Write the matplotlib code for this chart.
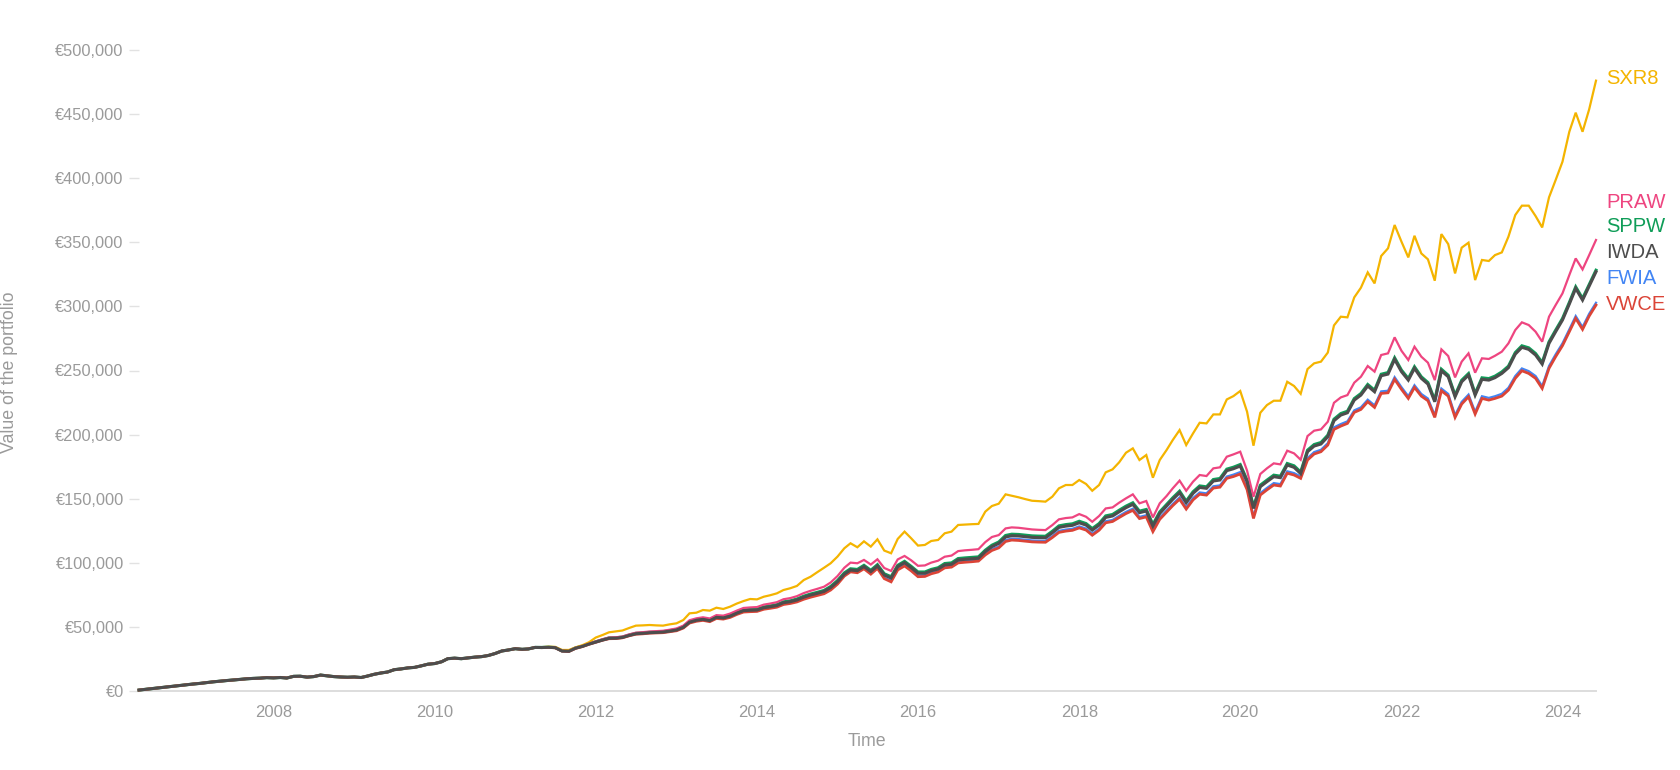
import matplotlib
matplotlib.use("Agg")
import matplotlib.pyplot as plt
import matplotlib.dates as mdates
import pandas as pd

plt.rcParams['font.family'] = ['Liberation Sans', 'DejaVu Sans']

# Portfolio value in thousands of euros, one point per month from May 2006.
# All six lines overlap until spring 2011, so that part is shared.
early = [0.5, 1.1, 1.7, 2.3, 2.9, 3.5, 4.1, 4.6, 5.2, 5.7,
         6.3, 6.9, 7.4, 7.9, 8.3, 8.8, 9.3, 9.6, 9.8, 10.2,
         10.0, 10.3, 9.9, 11.2, 11.3, 10.6, 11.0, 12.2, 11.6, 11.0,
         10.7, 10.5, 10.7, 10.3, 11.4, 12.8, 13.8, 14.6, 16.4, 17.0,
         17.8, 18.2, 19.4, 20.7, 21.2, 22.6, 25.0, 25.4, 25.0, 25.6,
         26.2, 26.6, 27.5, 29.0, 31.0, 31.8, 32.8, 32.3, 32.6, 33.8]

sxr8 = early + [
    34.0, 34.3, 34.2, 31.8, 31.8, 33.8, 35.5, 37.8, 41.5, 43.5,
    45.6, 46.3, 47.0, 49.0, 50.8, 51.0, 51.3, 51.0, 50.8, 51.8,
    52.6, 55.2, 60.4, 60.9, 63.0, 62.5, 64.8, 63.8, 65.6, 68.0,
    70.0, 71.6, 71.3, 73.4, 74.5, 76.0, 78.6, 80.0, 81.8, 86.4,
    89.0, 92.5, 96.0, 99.5, 104.7, 111.2, 115.1, 112.0, 116.6, 112.5,
    118.2, 109.4, 107.3, 118.5, 124.2, 119.0, 113.3, 113.8, 116.9, 117.7,
    122.9, 124.2, 129.4, 129.7, 130.0, 130.2, 139.8, 144.2, 146.0, 153.3,
    152.2, 151.0, 149.6, 148.3, 148.0, 147.6, 151.5, 158.0, 160.6, 160.6,
    164.5, 161.4, 156.1, 160.6, 170.5, 172.8, 178.3, 185.8, 189.2, 180.1,
    184.0, 166.3, 180.1, 187.9, 195.7, 203.5, 191.8, 200.9, 209.2, 208.7,
    215.7, 215.7, 227.4, 230.0, 234.0, 217.8, 191.3, 217.0, 223.0, 226.4,
    226.4, 241.2, 237.9, 231.8, 251.1, 255.6, 256.9, 264.0, 285.2, 292.0,
    291.5, 307.1, 314.6, 326.6, 318.0, 339.4, 345.4, 363.6, 350.6, 338.3,
    355.2, 341.4, 336.8, 320.1, 356.5, 348.7, 325.8, 345.9, 349.8, 320.6,
    336.3, 335.5, 340.1, 342.2, 354.5, 371.4, 378.7, 378.7, 370.6, 361.7,
    385.2, 398.7, 413.0, 436.4, 451.3, 436.4, 453.9, 476.3]

praw = early + [
    33.8, 34.0, 33.7, 31.1, 30.9, 33.4, 34.8, 36.7, 38.5, 40.2,
    41.5, 41.7, 42.3, 44.0, 45.3, 45.7, 46.2, 46.5, 46.8, 47.6,
    48.6, 50.8, 55.0, 56.5, 57.3, 56.4, 59.0, 58.6, 60.2, 62.5,
    64.6, 65.0, 65.3, 67.2, 68.0, 69.1, 71.4, 72.3, 73.8, 76.2,
    78.0, 79.5, 81.2, 84.5, 89.5, 96.0, 100.0, 99.5, 102.1, 98.5,
    102.6, 95.8, 93.5, 102.5, 105.2, 101.8, 97.5, 97.8, 100.0, 101.5,
    104.6, 105.5, 109.0, 109.6, 110.0, 110.5, 116.0, 120.0, 121.5, 126.7,
    127.5, 127.2, 126.6, 125.9, 125.6, 125.4, 129.3, 133.8, 134.8, 135.3,
    137.9, 135.8, 131.9, 136.4, 142.3, 143.1, 146.8, 150.2, 153.3, 146.3,
    148.1, 135.3, 146.3, 152.0, 158.0, 164.0, 156.1, 163.2, 168.4, 167.6,
    173.6, 174.4, 182.7, 184.5, 186.6, 171.8, 151.4, 169.2, 173.6, 177.5,
    176.7, 187.4, 185.3, 180.3, 198.8, 203.0, 204.0, 210.0, 224.8, 229.0,
    230.8, 240.5, 245.1, 253.5, 249.1, 262.1, 263.4, 275.9, 265.4, 258.2,
    268.6, 260.8, 256.1, 242.5, 266.5, 261.3, 244.6, 256.9, 263.4, 248.3,
    259.5, 259.0, 261.5, 264.7, 271.2, 281.6, 287.6, 285.5, 280.3, 272.5,
    292.0, 301.1, 310.2, 324.5, 337.5, 328.9, 340.1, 351.9]

sppw = early + [
    33.8, 34.0, 33.7, 31.1, 30.9, 33.4, 34.8, 36.6, 38.2, 39.8,
    41.2, 41.3, 41.9, 43.5, 44.8, 45.1, 45.6, 45.8, 46.1, 46.9,
    47.8, 49.9, 53.9, 55.5, 56.2, 55.2, 57.8, 57.3, 58.8, 61.1,
    63.1, 63.4, 63.6, 65.4, 66.2, 67.2, 69.4, 70.2, 71.6, 73.8,
    75.5, 76.8, 78.3, 81.4, 86.0, 92.0, 95.2, 94.7, 97.9, 94.0,
    98.4, 91.3, 89.0, 97.9, 101.0, 97.1, 92.7, 92.7, 94.7, 96.0,
    99.3, 99.8, 103.2, 103.7, 104.1, 104.5, 109.7, 113.6, 116.1, 121.2,
    122.2, 122.0, 121.5, 120.9, 120.7, 120.6, 124.5, 128.7, 129.7, 130.3,
    132.3, 130.5, 126.6, 130.5, 136.5, 137.6, 140.9, 144.1, 146.7, 140.2,
    141.5, 129.8, 139.6, 145.4, 150.6, 155.8, 148.0, 155.3, 159.9, 159.2,
    164.9, 165.7, 173.0, 174.5, 176.6, 164.4, 143.5, 160.5, 164.4, 168.3,
    167.5, 177.4, 175.6, 170.7, 187.8, 192.2, 193.8, 199.5, 212.0, 216.4,
    218.2, 228.1, 232.0, 239.1, 234.6, 247.1, 248.4, 259.9, 250.3, 243.7,
    252.9, 245.1, 240.6, 226.8, 251.0, 246.3, 230.7, 242.4, 247.6, 232.0,
    244.3, 243.7, 245.6, 248.9, 253.4, 264.0, 269.3, 267.7, 263.3, 256.2,
    272.4, 281.5, 290.6, 303.1, 315.3, 306.2, 317.1, 328.3]

iwda = early + [
    33.7, 33.9, 33.6, 31.0, 30.8, 33.2, 34.6, 36.4, 38.0, 39.6,
    40.9, 41.0, 41.6, 43.2, 44.5, 44.8, 45.3, 45.5, 45.8, 46.5,
    47.4, 49.5, 53.5, 55.0, 55.7, 54.7, 57.3, 56.8, 58.2, 60.5,
    62.5, 62.8, 63.0, 64.8, 65.5, 66.5, 68.7, 69.5, 70.8, 73.0,
    74.7, 76.0, 77.5, 80.5, 85.1, 91.0, 94.2, 93.7, 96.9, 93.0,
    97.4, 90.3, 88.0, 96.9, 100.0, 96.1, 91.7, 91.7, 93.7, 95.0,
    98.2, 98.7, 102.1, 102.6, 103.0, 103.4, 108.6, 112.5, 115.0, 120.0,
    121.0, 120.8, 120.3, 119.7, 119.5, 119.4, 123.3, 127.5, 128.5, 129.1,
    131.1, 129.3, 125.4, 129.3, 135.3, 136.4, 139.7, 142.9, 145.5, 139.0,
    140.3, 128.6, 138.4, 144.2, 149.4, 154.6, 146.8, 154.1, 158.7, 158.0,
    163.7, 164.5, 171.8, 173.3, 175.4, 163.2, 142.3, 159.3, 163.2, 167.1,
    166.3, 176.2, 174.4, 169.5, 186.6, 191.0, 192.6, 198.3, 210.8, 215.2,
    217.0, 226.9, 230.8, 237.9, 233.4, 245.9, 247.2, 258.7, 249.1, 242.5,
    251.7, 243.9, 239.4, 225.6, 249.8, 245.1, 229.5, 241.2, 246.4, 230.8,
    243.1, 242.5, 244.4, 247.7, 252.2, 262.8, 268.1, 266.5, 262.1, 255.0,
    271.2, 280.3, 289.4, 301.9, 314.1, 305.0, 315.9, 327.1]

fwia = early + [
    33.6, 33.8, 33.5, 30.9, 30.7, 33.1, 34.5, 36.3, 37.9, 39.5,
    40.8, 40.9, 41.5, 43.1, 44.3, 44.6, 45.1, 45.3, 45.5, 46.2,
    47.0, 49.2, 53.1, 54.5, 55.2, 54.2, 56.8, 56.3, 57.6, 59.9,
    61.8, 62.1, 62.3, 64.0, 64.7, 65.7, 67.8, 68.6, 69.8, 72.0,
    73.6, 74.9, 76.3, 79.3, 83.9, 90.2, 93.5, 92.8, 95.9, 91.8,
    96.3, 88.4, 85.9, 95.2, 98.3, 94.5, 89.9, 90.1, 92.2, 93.6,
    96.8, 97.4, 100.8, 101.3, 101.7, 102.2, 107.0, 110.6, 112.6, 117.6,
    118.7, 118.4, 117.9, 117.3, 117.1, 117.0, 120.7, 124.8, 125.8, 126.4,
    128.3, 126.6, 122.6, 126.5, 132.3, 133.3, 136.5, 139.6, 142.1, 135.7,
    137.0, 125.5, 135.1, 140.7, 145.8, 150.9, 143.2, 150.4, 154.8, 154.1,
    159.6, 160.3, 167.2, 168.7, 170.7, 158.5, 136.0, 154.3, 158.3, 162.1,
    161.3, 171.3, 169.9, 167.3, 181.6, 186.3, 188.1, 193.3, 205.6, 208.2,
    210.3, 218.9, 221.2, 227.2, 222.8, 233.7, 234.2, 244.8, 237.0, 229.9,
    238.5, 231.7, 228.1, 215.1, 235.9, 231.7, 215.1, 225.5, 231.2, 217.7,
    229.9, 228.6, 229.9, 231.8, 236.5, 245.7, 251.6, 249.5, 245.7, 237.8,
    253.5, 262.6, 271.2, 282.1, 292.5, 283.9, 294.3, 302.9]

vwce = early + [
    33.6, 33.8, 33.5, 30.9, 30.6, 33.0, 34.4, 36.2, 37.8, 39.4,
    40.6, 40.7, 41.3, 42.9, 44.1, 44.4, 44.9, 45.1, 45.3, 46.0,
    46.8, 48.9, 52.8, 54.2, 54.9, 53.9, 56.4, 55.9, 57.2, 59.5,
    61.4, 61.7, 61.9, 63.6, 64.3, 65.2, 67.3, 68.1, 69.3, 71.4,
    73.0, 74.3, 75.7, 78.6, 83.2, 89.5, 92.8, 92.1, 95.2, 91.0,
    95.5, 87.5, 85.0, 94.3, 97.4, 93.6, 89.0, 89.2, 91.3, 92.7,
    95.9, 96.5, 99.8, 100.3, 100.7, 101.2, 106.0, 109.5, 111.5, 116.5,
    117.6, 117.3, 116.8, 116.2, 116.0, 115.9, 119.6, 123.6, 124.6, 125.2,
    127.1, 125.4, 121.4, 125.3, 131.1, 132.1, 135.2, 138.3, 140.8, 134.4,
    135.7, 124.2, 133.8, 139.4, 144.5, 149.5, 141.8, 149.0, 153.4, 152.7,
    158.2, 158.9, 165.8, 167.2, 169.2, 157.0, 134.5, 152.8, 156.8, 160.6,
    159.8, 169.8, 168.4, 165.8, 180.1, 184.8, 186.6, 191.8, 204.0, 206.6,
    208.7, 217.3, 219.6, 225.6, 221.2, 232.1, 232.6, 243.1, 235.3, 228.2,
    236.8, 230.0, 226.4, 213.4, 234.2, 230.0, 213.4, 223.8, 229.5, 216.0,
    228.2, 226.9, 228.2, 230.0, 234.7, 243.9, 249.8, 247.7, 243.9, 236.0,
    251.7, 260.8, 269.4, 280.3, 290.7, 282.1, 292.5, 301.1]

names = ['SXR8', 'PRAW', 'SPPW', 'IWDA', 'FWIA', 'VWCE']
values = [sxr8, praw, sppw, iwda, fwia, vwce]
colors = ['#F4B400', '#EE4580', '#0F9D58', '#4D4D4D', '#4285F4', '#DB4437']
widths = [1.6, 1.6, 2.2, 2.2, 1.6, 2.0]
zorders = [3, 3, 2, 5, 2, 2.5]
year_ticks = list(range(2008, 2025, 2))

for s in values:
    assert len(s) == 218, len(s)

dates = pd.date_range('2006-05-01', periods=218, freq='MS')

fig = plt.figure(figsize=(16.8, 7.7), dpi=100)
ax = fig.add_axes([139 / 1680, 1 - 690.7 / 770, (1596 - 139) / 1680, 640.4 / 770])

for name, s, c, lw, z in zip(names, values, colors, widths, zorders):
    ax.plot(dates, [v * 1000 for v in s], color=c, lw=lw, zorder=z,
            solid_joinstyle='miter', clip_on=False)

ax.set_xlim(dates[0], dates[-1])
ax.set_ylim(0, 500000)

grey = '#9a9a9a'
ax.set_yticks(range(0, 500001, 50000))
ax.yaxis.set_major_formatter(plt.FuncFormatter(lambda v, p: f'€{v:,.0f}'))
ax.set_xticks([pd.Timestamp(f'{y}-01-01') for y in year_ticks])
ax.xaxis.set_major_formatter(mdates.DateFormatter('%Y'))

ax.tick_params(axis='y', length=7, width=1, color='#e2e2e2', pad=4,
               labelsize=11.8, labelcolor=grey)
ax.tick_params(axis='x', length=0, pad=10, labelsize=12, labelcolor=grey)

for side in ['top', 'right', 'left']:
    ax.spines[side].set_visible(False)
ax.spines['bottom'].set_color('#dddddd')
ax.spines['bottom'].set_linewidth(1.4)
ax.spines['bottom'].set_zorder(1)

fig.text(867 / 1680, 1 - 741 / 770, 'Time', ha='center', va='center',
         fontsize=12.8, color=grey)
fig.text(10 / 1680, 1 - 372 / 770, 'Value of the portfolio', ha='center',
         va='center', rotation=90, fontsize=12.8, color=grey)

# end-of-line labels, stacked at the right edge
label_y = [79, 202, 226, 252, 278, 304]
for name, c, y in zip(names, colors, label_y):
    fig.text(1606 / 1680, 1 - y / 770, name, ha='left', va='center',
             fontsize=14.5, color=c)

fig.savefig('out.png', dpi=100)
